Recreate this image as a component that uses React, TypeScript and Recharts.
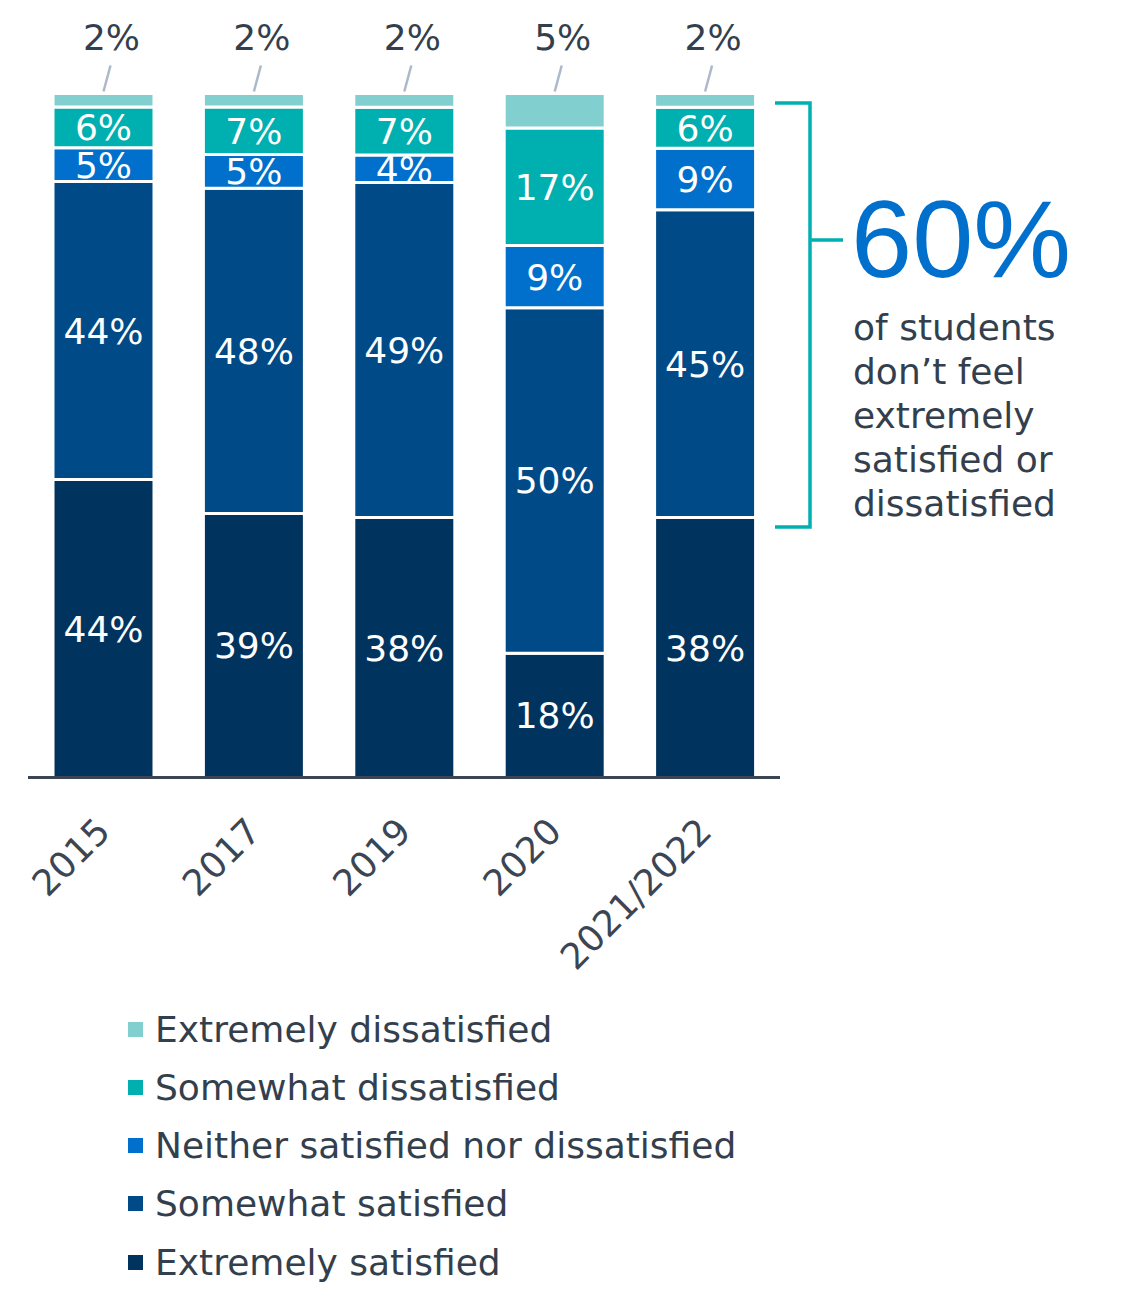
import React from 'react';
import { BarChart, Bar, XAxis, YAxis, LabelList, Legend } from 'recharts';

const categories = ['2015', '2017', '2019', '2020', '2021/2022'];
const extremelySatisfied = [44, 39, 38, 18, 38];
const somewhatSatisfied = [44, 48, 49, 50, 45];
const neitherSatisfied = [5, 5, 4, 9, 9];
const somewhatDissatisfied = [6, 7, 7, 17, 6];
const extremelyDissatisfied = [2, 2, 2, 5, 2];

const seriesKeys = ['es', 'ss', 'ne', 'sd', 'ed'];
const seriesNames = [
  'Extremely satisfied',
  'Somewhat satisfied',
  'Neither satisfied nor dissatisfied',
  'Somewhat dissatisfied',
  'Extremely dissatisfied',
];
const seriesColors = ['#00345e', '#004a87', '#0070cc', '#00b0b0', '#82cfd0'];

const calloutValue = '60%';
const calloutLines = ['of students', 'don\u2019t feel', 'extremely', 'satisfied or', 'dissatisfied'];

const data = categories.map((c, i) => ({
  year: c,
  es: extremelySatisfied[i],
  ss: somewhatSatisfied[i],
  ne: neitherSatisfied[i],
  sd: somewhatDissatisfied[i],
  ed: extremelyDissatisfied[i],
}));

const FONT = "'DejaVu Sans', Verdana, sans-serif";
const TEXT = '#343f4d';

const val = (v: any) => (Array.isArray(v) ? v[1] - v[0] : v);

const InsideLabel = (props: any) => {
  const { x, y, width, height, value } = props;
  const v = val(value);
  return (
    <text
      x={x + width / 2}
      y={y + height / 2 + 13}
      textAnchor="middle"
      fill="#ffffff"
      fontSize={36}
      fontFamily={FONT}
    >
      {`${v}%`}
    </text>
  );
};

const TopLabel = (props: any) => {
  const { x, y, width, value } = props;
  const v = val(value);
  const cx = x + width / 2;
  return (
    <g>
      <line x1={cx + 7} y1={y - 28} x2={cx} y2={y - 2} stroke="#adb9ca" strokeWidth={2.5} />
      <text x={cx + 8} y={y - 44} textAnchor="middle" fill={TEXT} fontSize={36} fontFamily={FONT}>
        {`${v}%`}
      </text>
    </g>
  );
};

const Tick = (props: any) => {
  const { x, y, payload } = props;
  const ex = x + 9;
  const ey = y + 48;
  return (
    <text
      x={ex}
      y={ey}
      transform={`rotate(-45 ${ex} ${ey})`}
      textAnchor="end"
      fill="#3b4553"
      fontSize={36}
      fontFamily={FONT}
    >
      {payload.value}
    </text>
  );
};

const LegendContent = () => (
  <div style={{ fontFamily: FONT, fontSize: 36, color: TEXT }}>
    {[4, 3, 2, 1, 0].map((i) => (
      <div key={i} style={{ height: 58.25, display: 'flex', alignItems: 'center', whiteSpace: 'nowrap' }}>
        <span style={{ display: 'inline-block', width: 15, height: 15, background: seriesColors[i], marginRight: 12 }} />
        <span>{seriesNames[i]}</span>
      </div>
    ))}
  </div>
);

export default function App() {
  return (
    <div style={{ position: 'relative', width: 1136, height: 1280 }}>
      <BarChart
        width={1136}
        height={1280}
        data={data}
        stackOffset="expand"
        barSize={101}
        margin={{ top: 85.5, right: 364, bottom: 310.5, left: 20 }}
      >
        <XAxis
          dataKey="year"
          axisLine={{ stroke: '#3b4553', strokeWidth: 3 }}
          tickLine={false}
          tick={<Tick />}
          interval={0}
          height={200}
        />
        <YAxis hide domain={[0, 1]} />
        {seriesKeys.map((k, i) => (
          <Bar
            key={k}
            dataKey={k}
            name={seriesNames[i]}
            stackId="a"
            fill={seriesColors[i]}
            stroke="#ffffff"
            strokeWidth={3}
            isAnimationActive={false}
          >
            {i < 4 ? (
              <LabelList dataKey={k} content={<InsideLabel />} />
            ) : (
              <LabelList dataKey={k} content={<TopLabel />} />
            )}
          </Bar>
        ))}
        <Legend
          layout="vertical"
          align="center"
          verticalAlign="middle"
          content={<LegendContent />}
          wrapperStyle={{ position: 'absolute', left: 120, top: 992, width: 800, height: 300 }}
        />
      </BarChart>
      <svg
        width={1136}
        height={1280}
        style={{ position: 'absolute', left: 0, top: 0, pointerEvents: 'none' }}
      >
        <path d="M767 95 H802 V519 H767" fill="none" stroke="#00b0b0" strokeWidth={3.5} />
        <line x1={802} y1={232} x2={835} y2={232} stroke="#00b0b0" strokeWidth={3.5} />
        <text x={843} y={269} fill="#0070cc" fontSize={110} fontFamily="'Liberation Sans', Arial, sans-serif">
          {calloutValue}
        </text>
        {calloutLines.map((t, i) => (
          <text key={i} x={845} y={332 + i * 44} fill={TEXT} fontSize={36} fontFamily={FONT}>
            {t}
          </text>
        ))}
      </svg>
    </div>
  );
}
